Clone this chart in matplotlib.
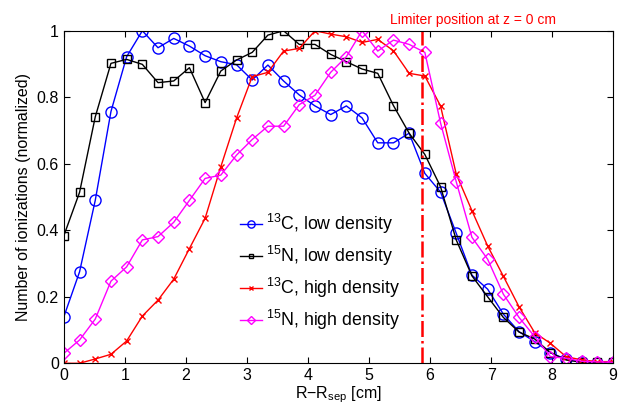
import numpy as np
import matplotlib as mpl
mpl.use('Agg')
from matplotlib import pyplot as plt

plt.rcParams['font.family'] = ['Liberation Sans', 'DejaVu Sans']
plt.rcParams['mathtext.fontset'] = 'custom'
plt.rcParams['mathtext.rm'] = 'Liberation Sans'
plt.rcParams['mathtext.it'] = 'Liberation Sans:italic'

# radial positions R-Rsep [cm]
r = np.linspace(0, 9, 36)

c13_low = [0.14, 0.275, 0.49, 0.757, 0.922, 1.0, 0.949, 0.977, 0.954, 0.925,
           0.907, 0.898, 0.852, 0.897, 0.849, 0.807, 0.774, 0.748, 0.774, 0.738,
           0.663, 0.663, 0.692, 0.571, 0.515, 0.391, 0.265, 0.223, 0.148, 0.095,
           0.065, 0.032, 0.012, 0.004, 0.002, 0.002]
n15_low = [0.384, 0.514, 0.741, 0.902, 0.914, 0.899, 0.844, 0.849, 0.889, 0.784,
           0.879, 0.912, 0.935, 0.987, 1.0, 0.959, 0.959, 0.929, 0.907, 0.885,
           0.872, 0.775, 0.692, 0.628, 0.531, 0.371, 0.263, 0.2, 0.138, 0.094,
           0.073, 0.032, 0.01, 0.003, 0.003, 0.003]
c13_high = [0.0, 0.0, 0.013, 0.027, 0.067, 0.142, 0.19, 0.253, 0.345, 0.436,
            0.591, 0.737, 0.862, 0.875, 0.939, 0.947, 1.0, 0.99, 0.982, 0.965,
            0.974, 0.94, 0.872, 0.864, 0.774, 0.569, 0.459, 0.353, 0.262, 0.17,
            0.092, 0.06, 0.02, 0.01, 0.005, 0.005]
n15_high = [0.03, 0.07, 0.133, 0.247, 0.29, 0.371, 0.381, 0.424, 0.49, 0.556,
            0.566, 0.626, 0.673, 0.713, 0.713, 0.778, 0.806, 0.875, 0.922, 1.0,
            0.939, 0.972, 0.959, 0.935, 0.723, 0.546, 0.379, 0.313, 0.208, 0.138,
            0.08, 0.02, 0.015, 0.006, 0.004, 0.003]

limiter_r = 5.86

fig = plt.figure(figsize=(6.2, 4.05), dpi=100)
ax = fig.add_axes([0.103, 0.103, 0.886, 0.821])

ax.plot(r, c13_low, '-o', color='#0000ff', lw=1.0, ms=8, mfc='none', mew=1.0,
        label=r'$^{13}$C, low density')
ax.plot(r, n15_low, '-s', color='k', lw=1.0, ms=5.5, mfc='none', mew=1.0,
        label=r'$^{15}$N, low density')
ax.plot(r, c13_high, '-x', color='#ff0000', lw=1.0, ms=5, mew=1.0,
        label=r'$^{13}$C, high density')
ax.plot(r, n15_high, '-D', color='#ff00ff', lw=1.0, ms=6.5, mfc='none', mew=1.0,
        label=r'$^{15}$N, high density')

ax.axvline(limiter_r, color='#ff0000', ls='-.', lw=1.8)
ax.text(limiter_r + 0.85, 1.012, 'Limiter position at z = 0 cm', color='#ff0000',
        fontsize=10, ha='center', va='bottom')

ax.set_xlim(0, 9)
ax.set_ylim(0, 1)
ax.set_xticks(range(10))
ax.set_yticks([0, 0.2, 0.4, 0.6, 0.8, 1])
ax.set_yticklabels(['0', '0.2', '0.4', '0.6', '0.8', '1'])
ax.tick_params(direction='in', top=True, right=True, labelsize=11.5, length=4)
ax.set_xlabel(r'R$-$R$_{\rm sep}$ [cm]', fontsize=11.5, labelpad=1)
ax.set_ylabel('Number of ionizations (normalized)', fontsize=11.5)

ax.legend(loc='lower left', bbox_to_anchor=(0.292, 0.045), frameon=False,
          fontsize=12.8, handlelength=1.25, handletextpad=0.2, labelspacing=0.45,
          markerscale=0.65)

fig.savefig('out.png', dpi=100)
